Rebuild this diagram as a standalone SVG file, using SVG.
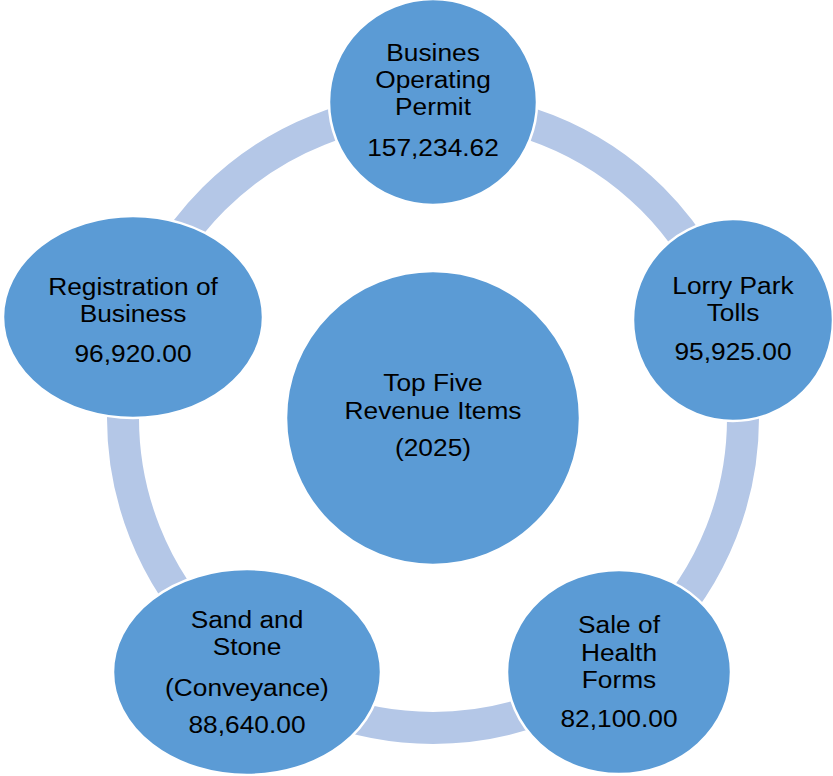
<svg xmlns="http://www.w3.org/2000/svg" width="833" height="776" viewBox="0 0 833 776">
<style>
.node{fill:#5B9BD5;stroke:#FFFFFF;stroke-width:2.5}
.ring{fill:none;stroke:#B4C7E7;stroke-width:32}
text{font-family:"Liberation Sans",Arial,sans-serif;font-size:23.5px;fill:#000000;text-anchor:middle}
</style>
<rect width="833" height="776" fill="#FFFFFF"/>
<g id="connectors">
<circle class="ring" cx="433" cy="418" r="310"/>
</g>
<g id="center">
<circle class="node" cx="433" cy="418" r="147"/>
<g transform="translate(433,0) scale(1.12,1)">
<text x="0" y="391">Top Five</text>
<text x="0" y="419">Revenue Items</text>
<text x="0" y="456">(2025)</text>
</g>
</g>
<g id="n1">
<ellipse class="node" cx="433" cy="102" rx="104" ry="103"/>
<g transform="translate(433,0) scale(1.12,1)">
<text x="0" y="61">Busines</text>
<text x="0" y="88">Operating</text>
<text x="0" y="115">Permit</text>
<text x="0" y="156">157,234.62</text>
</g>
</g>
<g id="n2">
<ellipse class="node" cx="733" cy="320" rx="100" ry="101"/>
<g transform="translate(733,0) scale(1.12,1)">
<text x="0" y="294">Lorry Park</text>
<text x="0" y="321">Tolls</text>
<text x="0" y="360">95,925.00</text>
</g>
</g>
<g id="n3">
<ellipse class="node" cx="619" cy="672" rx="112" ry="102"/>
<g transform="translate(619,0) scale(1.12,1)">
<text x="0" y="633">Sale of</text>
<text x="0" y="661">Health</text>
<text x="0" y="688">Forms</text>
<text x="0" y="727">82,100.00</text>
</g>
</g>
<g id="n4">
<ellipse class="node" cx="247" cy="672" rx="134" ry="103"/>
<g transform="translate(247,0) scale(1.12,1)">
<text x="0" y="628">Sand and</text>
<text x="0" y="655">Stone</text>
<text x="0" y="696">(Conveyance)</text>
<text x="0" y="733">88,640.00</text>
</g>
</g>
<g id="n5">
<ellipse class="node" cx="133" cy="317" rx="130" ry="101"/>
<g transform="translate(133,0) scale(1.12,1)">
<text x="0" y="295">Registration of</text>
<text x="0" y="322">Business</text>
<text x="0" y="362">96,920.00</text>
</g>
</g>
</svg>
